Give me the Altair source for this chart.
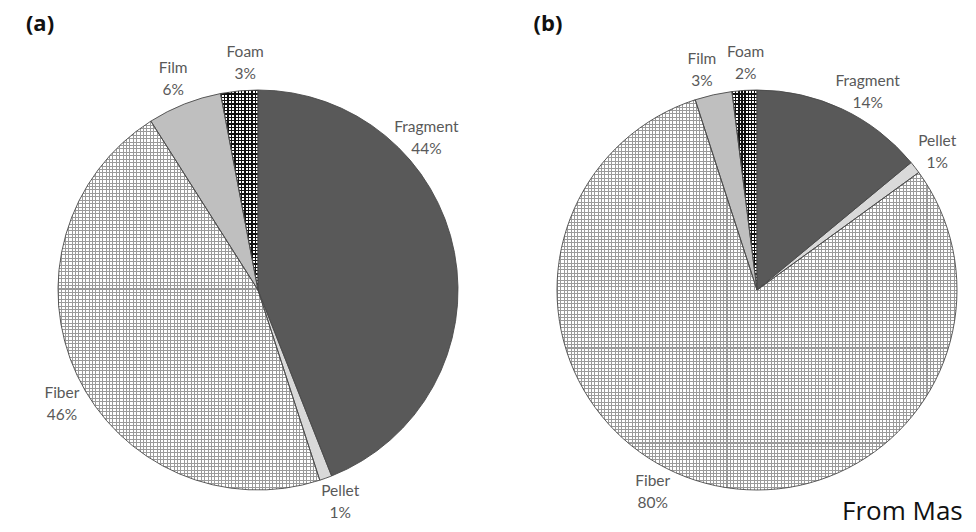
import altair as alt
import pandas as pd

# ---- data -------------------------------------------------------------
categories = ["Fragment", "Pellet", "Fiber", "Film", "Foam"]
share_a = [44, 1, 46, 6, 3]
share_b = [14, 1, 80, 3, 2]
panel_titles = ["(a)", "(b)"]
footnote = "From Mas"

# ---- layout / style ---------------------------------------------------
label_theta_a = [13.3, 44.1, 66.6, 93.9, 99.1]   # label direction, in % of the circle
label_theta_b = [8.1, 14.6, 57.6, 96.1, 99.2]
slice_colors = ["#595959", "#d9d9d9", "#ffffff", "#bfbfbf", "#ffffff"]
W, H = 960, 524
R = 200
LABEL_R = 227
CENTER_A = (250, 282)
CENTER_B = (749, 282)
theta_scale = alt.Scale(domain=[0, 100])


def stripes(n, line, bg, frac, vertical):
    stops = []
    for i in range(n):
        a = round(i / n, 5)
        b = round((i + frac) / n, 5)
        c = round((i + 1) / n, 5)
        stops += [
            alt.GradientStop(color=line, offset=a),
            alt.GradientStop(color=line, offset=b),
            alt.GradientStop(color=bg, offset=b),
            alt.GradientStop(color=bg, offset=c),
        ]
    if vertical:
        return alt.LinearGradient(gradient="linear", stops=stops, x1=0, x2=1, y1=0, y2=0)
    return alt.LinearGradient(gradient="linear", stops=stops, x1=0, x2=0, y1=0, y2=1)


def pie(shares, label_theta, center, fiber_n, foam_n):
    cx, cy = center
    df = pd.DataFrame({
        "category": categories,
        "share": shares,
        "order": list(range(len(categories))),
        "label_theta": label_theta,
        "label": [f"{c}\n{s}%" for c, s in zip(categories, shares)],
    })
    base = alt.Chart(df).transform_stack(
        stack="share", as_=["t0", "t1"], groupby=[],
        sort=[alt.SortField("order", order="ascending")],
    )
    pos = dict(
        theta=alt.Theta("t0:Q", scale=theta_scale),
        theta2="t1:Q",
        x=alt.value(cx),
        y=alt.value(cy),
    )
    fill = base.mark_arc(radius=R, strokeWidth=0).encode(
        fill=alt.Fill("category:N", scale=alt.Scale(domain=categories, range=slice_colors), legend=None),
        **pos,
    )
    clear = "rgba(255,255,255,0)"
    fib = base.transform_filter(alt.datum.category == "Fiber")
    fib_v = fib.mark_arc(radius=R, strokeWidth=0,
                         fill=stripes(fiber_n[0], "#9a9a9a", "#ffffff", 0.3, True)).encode(**pos)
    fib_h = fib.mark_arc(radius=R, strokeWidth=0,
                         fill=stripes(fiber_n[1], "#9a9a9a", clear, 0.3, False)).encode(**pos)
    foam = base.transform_filter(alt.datum.category == "Foam")
    foam_v = foam.mark_arc(radius=R, strokeWidth=0,
                           fill=stripes(foam_n[0], "#111111", "#ffffff", 0.42, True)).encode(**pos)
    foam_h = foam.mark_arc(radius=R, strokeWidth=0,
                           fill=stripes(foam_n[1], "#111111", clear, 0.42, False)).encode(**pos)
    outline = base.mark_arc(radius=R, fill="#ffffff", fillOpacity=0,
                            stroke="#4a4a4a", strokeWidth=0.9).encode(**pos)
    labels = alt.Chart(df).mark_text(
        radius=LABEL_R, lineBreak="\n", lineHeight=22, font="Lato", fontSize=15.5,
        color="#595959", align="center", baseline="middle", dy=-11,
    ).encode(
        theta=alt.Theta("label_theta:Q", scale=theta_scale),
        text="label:N",
        x=alt.value(cx),
        y=alt.value(cy),
    )
    return [fill, fib_v, fib_h, foam_v, foam_h, outline, labels]


titles_df = pd.DataFrame({"t": panel_titles})
title_a = alt.Chart(titles_df).transform_filter(alt.datum.t == panel_titles[0]).mark_text(
    font="Open Sans", fontSize=22, fontWeight="bold", color="#111111", align="center", baseline="middle"
).encode(text="t:N", x=alt.value(32), y=alt.value(16))
title_b = alt.Chart(titles_df).transform_filter(alt.datum.t == panel_titles[1]).mark_text(
    font="Open Sans", fontSize=22, fontWeight="bold", color="#111111", align="center", baseline="middle"
).encode(text="t:N", x=alt.value(540), y=alt.value(16))
foot = alt.Chart(pd.DataFrame({"t": [footnote]})).mark_text(
    font="Open Sans", fontSize=26, color="#111111", align="left", baseline="middle"
).encode(text="t:N", x=alt.value(834), y=alt.value(504))

layers = (
    pie(share_a, label_theta_a, CENTER_A, (77, 108), (11, 60))
    + pie(share_b, label_theta_b, CENTER_B, (118, 115), (8, 60))
    + [title_a, title_b, foot]
)

chart = alt.layer(*layers).properties(
    width=W, height=H, padding=0, autosize="none", background="#ffffff"
).configure_view(stroke=None)

chart.save("out.html", embed_options={"renderer": "svg", "actions": False})
